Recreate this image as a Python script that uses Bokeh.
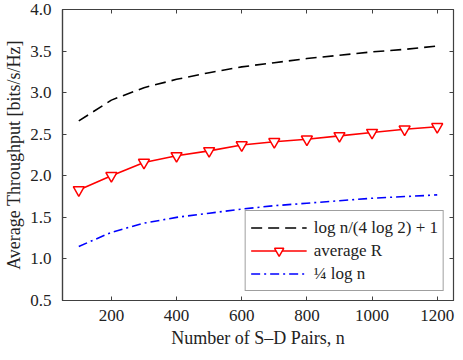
from bokeh.plotting import figure
from bokeh.models import LinearAxis, Legend, LegendItem, Range1d, FixedTicker, CustomJSTickFormatter
from bokeh.embed import file_html
from bokeh.resources import INLINE

n_pairs = [100, 200, 300, 400, 500, 600, 700, 800, 900, 1000, 1100, 1200]
upper_bound = [2.66, 2.91, 3.06, 3.16, 3.24, 3.31, 3.36, 3.41, 3.45, 3.49, 3.52, 3.56]
average_r = [1.83, 2.00, 2.16, 2.24, 2.30, 2.37, 2.41, 2.44, 2.48, 2.52, 2.56, 2.59]
lower_bound = [1.15, 1.32, 1.43, 1.50, 1.55, 1.60, 1.64, 1.67, 1.70, 1.73, 1.75, 1.77]
x_ticks = [200, 400, 600, 800, 1000, 1200]
y_ticks = [0.5, 1.0, 1.5, 2.0, 2.5, 3.0, 3.5, 4.0]
legend_labels = ["log n/(4 log 2) + 1", "average R", "\u00bc log n"]

FONT = "'Liberation Serif'"
INK = "#222222"
FRAME = "#404040"

p = figure(width=455, height=352, output_backend="svg", toolbar_location=None,
           x_range=Range1d(50, 1250), y_range=Range1d(0.5, 4.0),
           min_border_left=62, min_border_right=2, min_border_top=9, min_border_bottom=52,
           x_axis_label="Number of S\u2013D Pairs, n",
           y_axis_label="Average Throughput [bits/s/Hz]")
p.grid.visible = False
p.outline_line_color = FRAME
p.outline_line_width = 1.2
p.background_fill_color = "white"
p.border_fill_color = "white"

for ax in [p.xaxis[0], p.yaxis[0]]:
    ax.major_tick_in = 4
    ax.major_tick_out = 0
    ax.minor_tick_line_color = None
    ax.axis_line_color = FRAME
    ax.axis_line_width = 1.2
    ax.major_tick_line_color = FRAME
    ax.major_label_text_font = FONT
    ax.major_label_text_font_size = "17px"
    ax.major_label_text_color = INK
    ax.axis_label_text_font = FONT
    ax.axis_label_text_font_size = "18px"
    ax.axis_label_text_font_style = "normal"
    ax.axis_label_text_color = INK
p.xaxis[0].ticker = FixedTicker(ticks=x_ticks)
p.yaxis[0].ticker = FixedTicker(ticks=y_ticks)
p.yaxis[0].formatter = CustomJSTickFormatter(code="return tick.toFixed(1);")
p.xaxis[0].major_label_standoff = 9
p.yaxis[0].major_label_standoff = 11
p.xaxis[0].axis_label_standoff = 4
p.yaxis[0].axis_label_standoff = 3

top_ax = LinearAxis(ticker=FixedTicker(ticks=x_ticks),
                    major_label_overrides={t: "" for t in x_ticks},
                    major_label_text_font_size="1px",
                    major_tick_in=4, major_tick_out=0, minor_tick_line_color=None,
                    axis_line_color=None, major_tick_line_color=FRAME,
                    major_label_standoff=0)
right_ax = LinearAxis(ticker=FixedTicker(ticks=y_ticks),
                      major_label_overrides={t: "" for t in y_ticks},
                      major_label_text_font_size="1px",
                      major_tick_in=4, major_tick_out=0, minor_tick_line_color=None,
                      axis_line_color=None, major_tick_line_color=FRAME,
                      major_label_standoff=0)
p.add_layout(top_ax, "above")
p.add_layout(right_ax, "right")

r1 = p.line(n_pairs, upper_bound, line_color="black", line_width=1.6, line_dash="11 6")
r2 = p.line(n_pairs, average_r, line_color="red", line_width=1.6)
r2m = p.scatter(n_pairs, average_r, marker="inverted_triangle", size=11,
                line_color="red", line_width=1.5, fill_color="white")
r3 = p.line(n_pairs, lower_bound, line_color="blue", line_width=1.6, line_dash="9 4 2 4")

legend = Legend(items=[
    LegendItem(label=legend_labels[0], renderers=[r1]),
    LegendItem(label=legend_labels[1], renderers=[r2, r2m]),
    LegendItem(label=legend_labels[2], renderers=[r3]),
], location="bottom_right")
legend.label_text_font = FONT
legend.label_text_font_size = "17px"
legend.label_text_color = INK
legend.glyph_width = 56
legend.glyph_height = 23
legend.label_height = 23
legend.label_standoff = 7
legend.spacing = 0
legend.padding = 5
legend.margin = 9
legend.border_line_color = FRAME
legend.border_line_width = 1
legend.background_fill_alpha = 1
p.add_layout(legend)

open("out.html", "w").write(file_html(p, INLINE))
